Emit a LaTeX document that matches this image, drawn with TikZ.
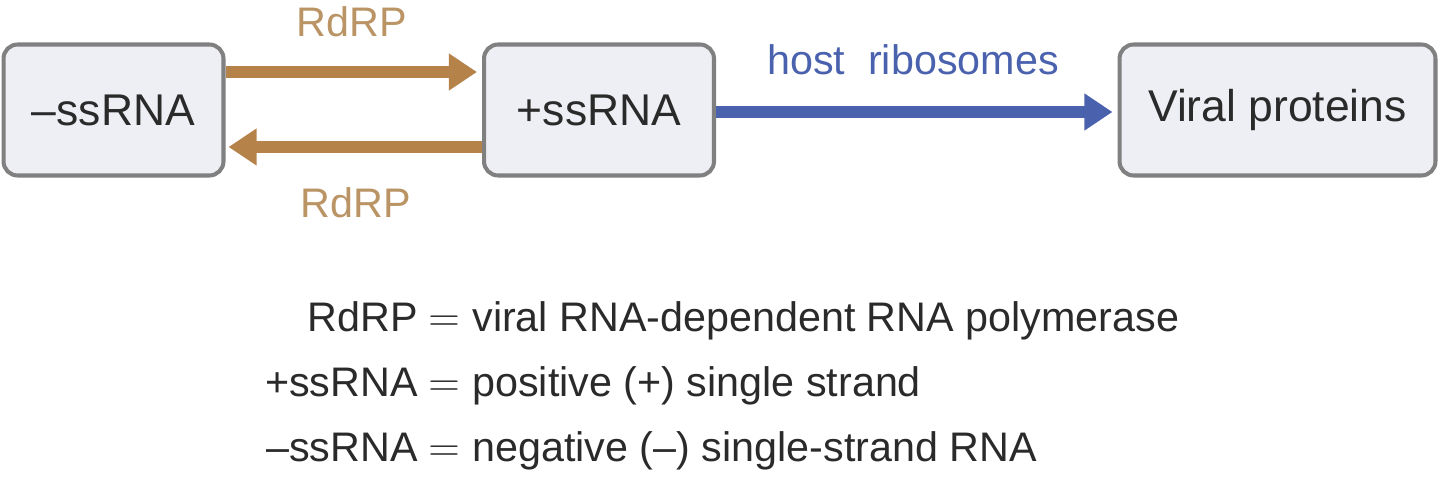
\documentclass[tikz,border=0pt]{standalone}
\usepackage{fontspec}
\setmainfont{Liberation Sans}
\usetikzlibrary{arrows.meta}
\definecolor{boxfill}{HTML}{EEEFF4}
\definecolor{boxline}{HTML}{808080}
\definecolor{brown}{HTML}{B5834A}
\definecolor{brlab}{HTML}{BA9464}
\definecolor{blu}{HTML}{4A62AE}
\definecolor{txt}{HTML}{2A2A2A}
\begin{document}
\begin{tikzpicture}[x=0.02cm,y=-0.02cm,
  box/.style={draw=boxline,fill=boxfill,line width=2.3pt,rounded corners=8pt,minimum height=2.62cm,text=txt,font=\fontsize{25.3}{29}\selectfont},
  arr/.style={line width=6.5pt,-{Triangle[length=16pt,width=20pt]}},
  lab/.style={font=\fontsize{23.5}{27}\selectfont},
  leg/.style={font=\fontsize{23.5}{27}\selectfont,text=txt,inner sep=0pt}]
\useasboundingbox (0,0) rectangle (1440,486);
\node[box,minimum width=4.4cm] (neg) at (113.5,110) {–ssRNA};
\node[box,minimum width=4.6cm] (pos) at (599,110) {+ssRNA};
\node[box,minimum width=6.32cm] (vp) at (1277.5,110) {Viral proteins};
\draw[arr,brown] ([yshift=0.76cm]neg.east) -- ([yshift=0.76cm,xshift=-0.1cm]pos.west);
\draw[arr,brown] ([yshift=-0.74cm]pos.west) -- ([yshift=-0.74cm,xshift=0.06cm]neg.east);
\draw[arr,blu] ([yshift=-0.04cm]pos.east) -- ([yshift=-0.04cm,xshift=-0.1cm]vp.west);
\node[lab,text=brlab] (r1) at (352,22) {RdRP};
\node[lab,text=brlab] (r2) at (356,203) {RdRP};
\node[lab,text=blu] (hr) at (913,60) {host\ \ ribosomes};
\node[leg,anchor=base east] (l1) at (418,331) {RdRP};
\node[leg,anchor=base] (e1) at (444,331) {$=$};
\node[leg,anchor=base west] (d1) at (472,331) {viral RNA-dependent RNA polymerase};
\node[leg,anchor=base east] (l2) at (418,396) {+ssRNA};
\node[leg,anchor=base] (e2) at (444,396) {$=$};
\node[leg,anchor=base west] (d2) at (472,396) {positive (+) single strand};
\node[leg,anchor=base east] (l3) at (418,461) {–ssRNA};
\node[leg,anchor=base] (e3) at (444,461) {$=$};
\node[leg,anchor=base west] (d3) at (472,461) {negative (–) single-strand RNA};
\end{tikzpicture}
\end{document}
